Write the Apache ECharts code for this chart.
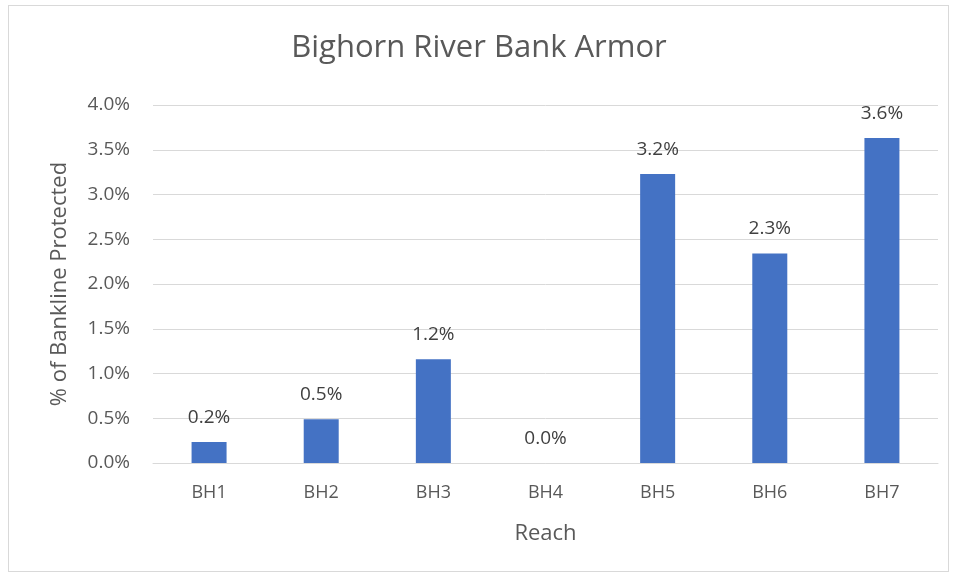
<!DOCTYPE html>
<html>
<head>
<meta charset="utf-8">
<script src="https://cdn.jsdelivr.net/npm/echarts@6/dist/echarts.min.js"></script>
<style>
html,body{margin:0;padding:0;background:#fff;}
#frame{position:absolute;left:8px;top:5px;width:941px;height:567px;border:1px solid #d9d9d9;box-sizing:border-box;}
#chart{position:absolute;left:0;top:0;width:958px;height:577px;}
</style>
</head>
<body>
<div id="frame"></div>
<div id="chart"></div>
<script>
const categories = ['BH1','BH2','BH3','BH4','BH5','BH6','BH7'];
const values = [0.235, 0.49, 1.16, 0.0, 3.23, 2.34, 3.63];
const yTicks = [0, 0.5, 1.0, 1.5, 2.0, 2.5, 3.0, 3.5, 4.0];
const titleText = 'Bighorn River Bank Armor';
const xName = 'Reach';
const yName = '% of Bankline Protected';

const font = '"Open Sans", "Liberation Sans", sans-serif';
const chart = echarts.init(document.getElementById('chart'), null, {renderer:'canvas'});
chart.setOption({
  backgroundColor: 'transparent',
  animation: false,
  title: {
    text: titleText, left: 'center', top: 28,
    textStyle: {fontFamily: font, fontSize: 31, fontWeight: 'normal', color: '#595959'}
  },
  grid: {left: 153, right: 20, top: 105, bottom: 114},
  xAxis: {
    type: 'category', data: categories,
    name: xName, nameLocation: 'middle', nameGap: 60,
    nameTextStyle: {fontFamily: font, fontSize: 22, color: '#595959'},
    axisLine: {lineStyle: {color: '#d9d9d9', width: 1}},
    axisTick: {show: false},
    axisLabel: {fontFamily: font, fontSize: 18, color: '#595959', margin: 21}
  },
  yAxis: {
    type: 'value', min: 0, max: 4, interval: 0.5,
    name: yName, nameLocation: 'middle', nameGap: 82, nameRotate: 90,
    nameTextStyle: {fontFamily: font, fontSize: 22, color: '#595959'},
    axisLine: {show: false}, axisTick: {show: false},
    splitLine: {lineStyle: {color: '#d9d9d9', width: 1}},
    axisLabel: {fontFamily: font, fontSize: 19, color: '#595959', margin: 23,
      formatter: v => v.toFixed(1) + '%'}
  },
  series: [{
    type: 'bar', data: values, barWidth: 35,
    itemStyle: {color: '#4472c4'},
    label: {show: true, position: 'top', distance: 15,
      fontFamily: font, fontSize: 19, color: '#404040',
      formatter: p => p.value.toFixed(1) + '%'}
  }]
});
</script>
</body>
</html>
